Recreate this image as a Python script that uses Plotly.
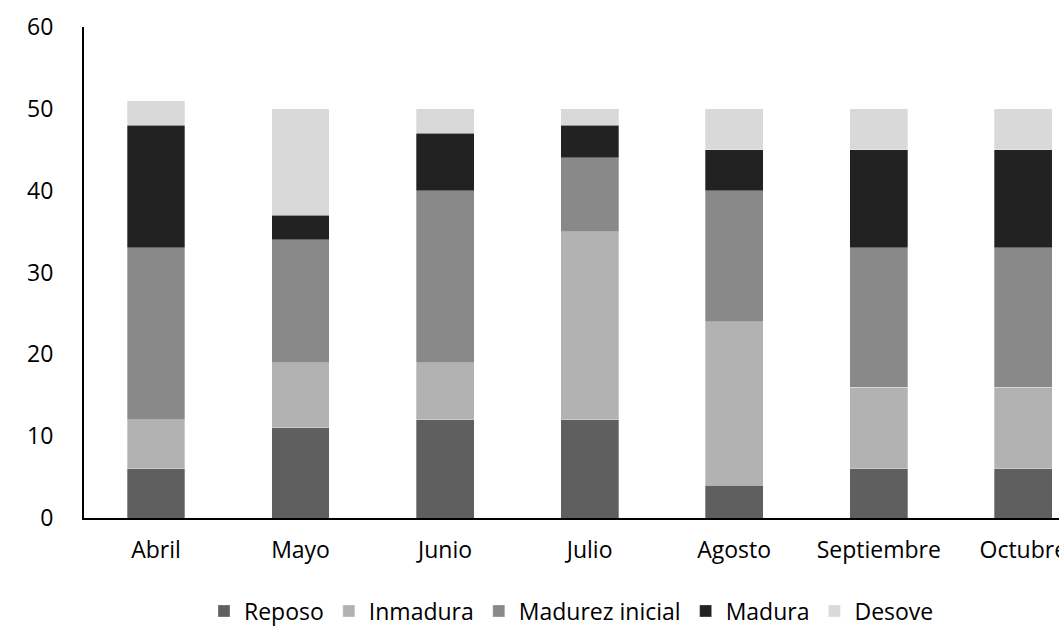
import plotly.graph_objects as go

months = ["Abril", "Mayo", "Junio", "Julio", "Agosto", "Septiembre", "Octubre"]
reposo = [6, 11, 12, 12, 4, 6, 6]
inmadura = [6, 8, 7, 23, 20, 10, 10]
madurez_inicial = [21, 15, 21, 9, 16, 17, 17]
madura = [15, 3, 7, 4, 5, 12, 12]
desove = [3, 13, 3, 2, 5, 5, 5]

series = [
    ("Reposo", reposo, "#5f5f5f"),
    ("Inmadura", inmadura, "#b2b2b2"),
    ("Madurez inicial", madurez_inicial, "#898989"),
    ("Madura", madura, "#222222"),
    ("Desove", desove, "#d9d9d9"),
]

FONT = "'Open Sans', sans-serif"
FS = 23
W, H = 1059, 627

fig = go.Figure()
for name, vals, color in series:
    fig.add_trace(go.Bar(
        name=name, x=months, y=vals,
        marker=dict(color=color, line=dict(color="rgba(255,255,255,0.6)", width=0.5)),
        width=0.4,
    ))

fig.update_layout(
    barmode="stack",
    width=W, height=H,
    margin=dict(l=84, r=0, t=27, b=H - 518),
    plot_bgcolor="white", paper_bgcolor="white",
    font=dict(family=FONT, size=FS, color="#000000"),
    xaxis=dict(
        range=[-0.498, 6.247], automargin=False,
        showline=True, linecolor="#000000", linewidth=2,
        showgrid=False, ticks="", tickfont=dict(size=FS),
        ticklabelstandoff=10,
    ),
    yaxis=dict(
        range=[0, 60], dtick=10, automargin=False,
        showline=True, linecolor="#000000", linewidth=2,
        showgrid=False, zeroline=False, ticks="", tickfont=dict(size=FS),
        ticklabelstandoff=24,
    ),
    legend=dict(
        orientation="h", x=0.5, xanchor="center",
        yref="container", y=1 - 611 / H, yanchor="middle",
        font=dict(size=FS), traceorder="normal", itemwidth=30,
    ),
    showlegend=True,
)

fig.write_html(
    "out.html",
    config={"displayModeBar": False},
    post_script="document.body.style.margin='0';document.body.style.overflow='hidden';",
)
